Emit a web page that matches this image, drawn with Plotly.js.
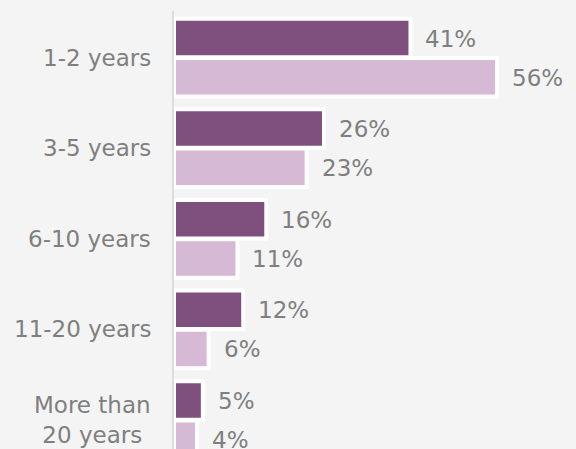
<!DOCTYPE html>
<html>
<head>
<meta charset="utf-8">
<script src="https://cdn.plot.ly/plotly-3.0.1.min.js"></script>
<style>html,body{margin:0;padding:0;background:#f4f4f4;}#chart{width:576px;height:449px;}</style>
</head>
<body>
<div id="chart"></div>
<script>
const categories = ["1-2 years", "3-5 years", "6-10 years", "11-20 years", "More than<br>20 years"];
const seriesA = [41, 26, 16, 12, 5];
const seriesB = [56, 23, 11, 6, 4];
const labelsA = seriesA.map(v => v + "%");
const labelsB = seriesB.map(v => v + "%");

const FONT = "DejaVu Sans, sans-serif";
const TXT = "#7f7f7f";

const traceA = {
  type: "bar", orientation: "h", x: seriesA, y: categories, name: "A",
  marker: {color: "#7f4f7e", line: {color: "#ffffff", width: 4}},
  hoverinfo: "skip"
};
const traceB = {
  type: "bar", orientation: "h", x: seriesB, y: categories, name: "B",
  marker: {color: "#d6b9d5", line: {color: "#ffffff", width: 4}},
  hoverinfo: "skip"
};

const annotations = [];
categories.forEach((c, i) => {
  annotations.push({x: 0, xref: "paper", y: c, yref: "y", text: c, showarrow: false,
    xanchor: "right", align: "center", xshift: -21, font: {family: FONT, size: 23, color: TXT}});
  annotations.push({x: seriesA[i], y: c, yref: "y", yshift: 19, text: labelsA[i], showarrow: false,
    xanchor: "left", xshift: 13, font: {family: FONT, size: 23, color: TXT}});
  annotations.push({x: seriesB[i], y: c, yref: "y", yshift: -20, text: labelsB[i], showarrow: false,
    xanchor: "left", xshift: 13, font: {family: FONT, size: 23, color: TXT}});
});

const layout = {
  width: 576, height: 449,
  paper_bgcolor: "#f4f4f4", plot_bgcolor: "#f4f4f4",
  margin: {l: 174, r: 0, t: 11, b: 0},
  barmode: "group", bargap: 0.134, bargroupgap: 0.02,
  showlegend: false,
  xaxis: {range: [0, 69.7], visible: false, fixedrange: true},
  yaxis: {type: "category", categoryarray: categories, range: [4.3187, -0.5135],
    showticklabels: false, ticks: "", showgrid: false, zeroline: false,
    showline: true, linecolor: "#dcdcdc", linewidth: 2, fixedrange: true},
  annotations: annotations,
  font: {family: FONT, color: TXT}
};

Plotly.newPlot("chart", [traceA, traceB], layout, {displayModeBar: false, staticPlot: true});
</script>
</body>
</html>
